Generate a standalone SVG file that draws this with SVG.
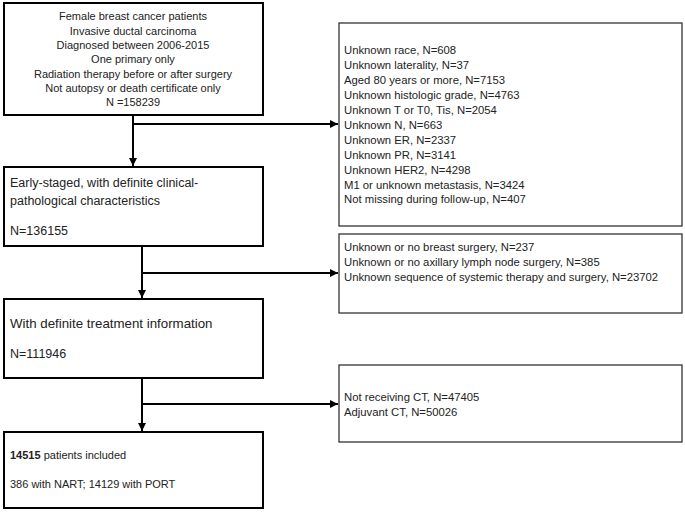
<svg xmlns="http://www.w3.org/2000/svg" width="685" height="512" viewBox="0 0 685 512">
<defs>
<style>
.box{fill:#fff;stroke:#000;stroke-width:2}
.sbox{fill:#fff;stroke:#333;stroke-width:1.3}
text{font-family:"Liberation Sans",Arial,sans-serif;font-size:11px;fill:#222}
.r{font-size:11.3px}
.c{text-anchor:middle}
.big{font-size:12.5px}
.big2{font-size:13.3px}
.ln{fill:none;stroke:#000;stroke-width:2}
</style>
<marker id="ah" viewBox="0 0 10 10" refX="10" refY="5" markerWidth="4" markerHeight="4" orient="auto"><path d="M0,0L10,5L0,10z" fill="#000"/></marker>
</defs>
<rect width="685" height="512" fill="#fff"/>
<g id="connectors">
<path class="ln" d="M133,115V166" marker-end="url(#ah)"/>
<path class="ln" d="M133,124H338" marker-end="url(#ah)"/>
<path class="ln" d="M142,246V298" marker-end="url(#ah)"/>
<path class="ln" d="M142,273H338" marker-end="url(#ah)"/>
<path class="ln" d="M142,378V431" marker-end="url(#ah)"/>
<path class="ln" d="M142,404H338" marker-end="url(#ah)"/>
</g>
<g id="n1">
<rect class="box" x="4" y="3" width="259" height="112"/>
<text class="c" x="133" y="20">Female breast cancer patients</text>
<text class="c" x="133" y="34.5">Invasive ductal carcinoma</text>
<text class="c" x="133" y="49">Diagnosed between 2006-2015</text>
<text class="c" x="133" y="63">One primary only</text>
<text class="c" x="133" y="77.5">Radiation therapy before or after surgery</text>
<text class="c" x="133" y="92">Not autopsy or death certificate only</text>
<text class="c" x="133" y="106">N =158239</text>
</g>
<g id="e1" class="r">
<rect class="sbox" x="339" y="23" width="343" height="203"/>
<text class="r" x="344" y="54">Unknown race, N=608</text>
<text class="r" x="344" y="69">Unknown laterality, N=37</text>
<text class="r" x="344" y="84">Aged 80 years or more, N=7153</text>
<text class="r" x="344" y="99">Unknown histologic grade, N=4763</text>
<text class="r" x="344" y="114">Unknown T or T0, Tis, N=2054</text>
<text class="r" x="344" y="129">Unknown N, N=663</text>
<text class="r" x="344" y="144">Unknown ER, N=2337</text>
<text class="r" x="344" y="159">Unknown PR, N=3141</text>
<text class="r" x="344" y="174">Unknown HER2, N=4298</text>
<text class="r" x="344" y="189">M1 or unknown metastasis, N=3424</text>
<text class="r" x="344" y="203">Not missing during follow-up, N=407</text>
</g>
<g id="n2">
<rect class="box" x="4" y="167" width="259" height="79"/>
<text class="big" x="10" y="187">Early-staged, with definite clinical-</text>
<text class="big" x="10" y="205">pathological characteristics</text>
<text class="big" x="10" y="235">N=136155</text>
</g>
<g id="e2">
<rect class="sbox" x="339" y="234" width="343" height="79"/>
<text class="r" x="344" y="251">Unknown or no breast surgery, N=237</text>
<text class="r" x="344" y="266">Unknown or no axillary lymph node surgery, N=385</text>
<text class="r" x="344" y="281">Unknown sequence of systemic therapy and surgery, N=23702</text>
</g>
<g id="n3">
<rect class="box" x="4" y="299" width="259" height="79"/>
<text class="big2" x="10" y="328">With definite treatment information</text>
<text class="big" x="10" y="358">N=111946</text>
</g>
<g id="e3">
<rect class="sbox" x="339" y="365" width="343" height="77"/>
<text class="r" x="344" y="401">Not receiving CT, N=47405</text>
<text class="r" x="344" y="416">Adjuvant CT, N=50026</text>
</g>
<g id="n4">
<rect class="box" x="4" y="432" width="259" height="76"/>
<text x="10" y="459"><tspan font-weight="bold">14515</tspan> patients included</text>
<text x="10" y="488">386 with NART; 14129 with PORT</text>
</g>
</svg>
